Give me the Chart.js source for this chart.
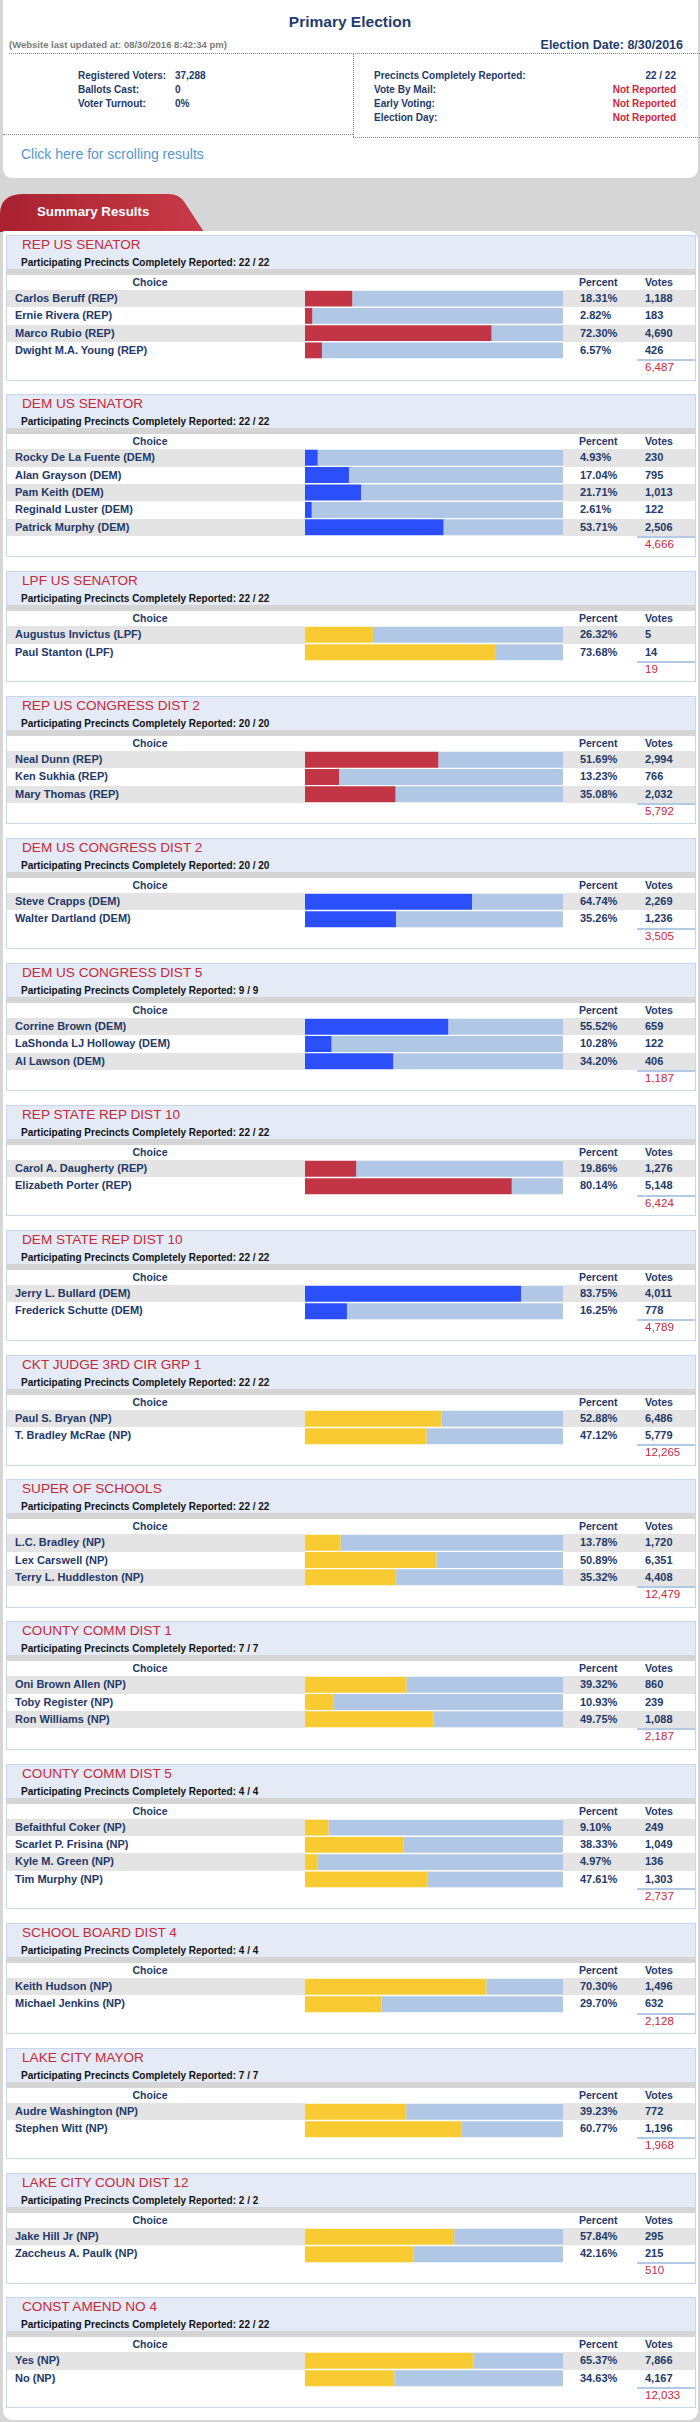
<!DOCTYPE html>
<html>
<head>
<meta charset="utf-8">
<title>Primary Election</title>
<script src="https://cdn.jsdelivr.net/npm/chart.js@4/dist/chart.umd.min.js"></script>
<style>
  html, body { margin: 0; padding: 0; }
  body {
    width: 700px; height: 2422px; overflow: hidden; position: relative;
    background: #d6d6d6; font-family: Arial, "Liberation Sans", sans-serif; color: #22396a;
  }
  .abs { position: absolute; white-space: nowrap; }
  #top { position: absolute; left: 3px; top: 0; width: 695px; height: 178px; background: #fff; border-radius: 0 0 9px 9px; }
  .dot-h { position: absolute; height: 0; border-top: 1px dotted #8a8a8a; }
  .dot-v { position: absolute; width: 0; border-left: 1px dotted #8a8a8a; }
  .stat { font-size: 10px; font-weight: bold; line-height: 12px; color: #22396a; }
  .nr { color: #c8283a; }
  #summary { position: absolute; left: 3px; top: 231px; width: 695px; height: 2189px; background: #fff; border-radius: 0 9px 9px 9px; }
  #panels { position: absolute; left: 3px; top: 4px; width: 690px; }
  .panel { box-sizing: border-box; width: 690px; border: 1px solid #c6d6ec; margin-bottom: 13.8px; background: #fff; }
  .ptitle { height: 33px; background: #e4ebf6; }
  .ptitle .t { font-size: 13.6px; line-height: 16px; color: #c8283a; padding: 1px 0 0 15px; }
  .ptitle .s { font-size: 10px; line-height: 12px; font-weight: bold; color: #111; padding: 4px 0 0 14px; }
  .stripe { height: 6px; background: #d5d5d5; }
  .hdr { height: 15px; position: relative; font-size: 10.5px; font-weight: bold; line-height: 15px; color: #22396a; }
  .rows { position: relative; }
  .row { display: flex; height: 17.33px; font-size: 11px; font-weight: bold; line-height: 17.33px; color: #22396a; }
  .row div { white-space: nowrap; }
  .row .nm { width: 290px; padding-left: 8px; }
  .row .br { width: 258px; background: #fff; }
  .row .pc { width: 57px; padding-left: 17px; }
  .row .vt { flex: 1; padding-left: 8px; }
  .row.alt .nm, .row.alt .pc, .row.alt .vt { background: #e4e4e4; }
  .rows canvas { position: absolute; left: 298px; top: 0; }
  .foot { height: 20.33px; position: relative; }
  .foot .ln { position: absolute; left: 630px; right: 0; top: 0; height: 2px; background: #b3cae6; }
  .foot .tot { position: absolute; left: 638px; top: 1px; font-size: 11.5px; line-height: 14px; color: #c8283a; }
</style>
</head>
<body>

<div id="top"></div>
<div class="abs" style="left:0;top:12px;width:700px;text-align:center;font-size:15.5px;font-weight:bold;line-height:20px;color:#1f3c6e;">Primary Election</div>
<div class="abs" style="left:9px;top:39px;font-size:9.5px;font-weight:bold;line-height:12px;color:#7a7a7a;">(Website last updated at: 08/30/2016 8:42:34 pm)</div>
<div class="abs" style="right:17px;top:37px;font-size:12.5px;font-weight:bold;line-height:16px;color:#1f3c6e;">Election Date: 8/30/2016</div>
<div class="dot-h" style="left:9px;width:691px;top:53px;"></div>
<div class="dot-h" style="left:3px;width:350px;top:134px;"></div>
<div class="dot-v" style="left:353px;top:53px;height:84px;"></div>
<div class="dot-h" style="left:353px;width:347px;top:137px;"></div>

<div class="abs stat" style="left:78px;top:70px;">Registered Voters:</div>
<div class="abs stat" style="left:175px;top:70px;">37,288</div>
<div class="abs stat" style="left:78px;top:84px;">Ballots Cast:</div>
<div class="abs stat" style="left:175px;top:84px;">0</div>
<div class="abs stat" style="left:78px;top:98px;">Voter Turnout:</div>
<div class="abs stat" style="left:175px;top:98px;">0%</div>

<div class="abs stat" style="left:374px;top:70px;">Precincts Completely Reported:</div>
<div class="abs stat" style="right:24px;top:70px;">22 / 22</div>
<div class="abs stat" style="left:374px;top:84px;">Vote By Mail:</div>
<div class="abs stat nr" style="right:24px;top:84px;">Not Reported</div>
<div class="abs stat" style="left:374px;top:98px;">Early Voting:</div>
<div class="abs stat nr" style="right:24px;top:98px;">Not Reported</div>
<div class="abs stat" style="left:374px;top:112px;">Election Day:</div>
<div class="abs stat nr" style="right:24px;top:112px;">Not Reported</div>

<div class="abs" style="left:21px;top:146px;font-size:14px;line-height:16px;color:#5596d6;">Click here for scrolling results</div>

<svg class="abs" style="left:0;top:194px;" width="206" height="38">
  <defs>
    <linearGradient id="tabg" x1="0" y1="0" x2="1" y2="0">
      <stop offset="0" stop-color="#a9222f"/>
      <stop offset="1" stop-color="#c93a48"/>
    </linearGradient>
  </defs>
  <path d="M0,38 L0,20 Q0,0 24,0 L168,0 Q180,0 185,9 L204,38 Z" fill="url(#tabg)"/>
</svg>
<div class="abs" style="left:37px;top:204px;font-size:13.3px;font-weight:bold;line-height:16px;color:#fff;">Summary Results</div>

<div id="summary"><div id="panels"></div></div>

<script>
const raceTitles = [
  'REP US SENATOR', 'DEM US SENATOR', 'LPF US SENATOR', 'REP US CONGRESS DIST 2',
  'DEM US CONGRESS DIST 2', 'DEM US CONGRESS DIST 5', 'REP STATE REP DIST 10', 'DEM STATE REP DIST 10',
  'CKT JUDGE 3RD CIR GRP 1', 'SUPER OF SCHOOLS', 'COUNTY COMM DIST 1', 'COUNTY COMM DIST 5',
  'SCHOOL BOARD DIST 4', 'LAKE CITY MAYOR', 'LAKE CITY COUN DIST 12', 'CONST AMEND NO 4'
];
const racePrecincts = [
  '22 / 22', '22 / 22', '22 / 22', '20 / 20', '20 / 20', '9 / 9', '22 / 22', '22 / 22',
  '22 / 22', '22 / 22', '7 / 7', '4 / 4', '4 / 4', '7 / 7', '2 / 2', '22 / 22'
];
const raceParties = ['REP', 'DEM', 'LPF', 'REP', 'DEM', 'DEM', 'REP', 'DEM', 'NP', 'NP', 'NP', 'NP', 'NP', 'NP', 'NP', 'NP'];

const candidateNames = [
  ['Carlos Beruff (REP)', 'Ernie Rivera (REP)', 'Marco Rubio (REP)', 'Dwight M.A. Young (REP)'],
  ['Rocky De La Fuente (DEM)', 'Alan Grayson (DEM)', 'Pam Keith (DEM)', 'Reginald Luster (DEM)', 'Patrick Murphy (DEM)'],
  ['Augustus Invictus (LPF)', 'Paul Stanton (LPF)'],
  ['Neal Dunn (REP)', 'Ken Sukhia (REP)', 'Mary Thomas (REP)'],
  ['Steve Crapps (DEM)', 'Walter Dartland (DEM)'],
  ['Corrine Brown (DEM)', 'LaShonda LJ Holloway (DEM)', 'Al Lawson (DEM)'],
  ['Carol A. Daugherty (REP)', 'Elizabeth Porter (REP)'],
  ['Jerry L. Bullard (DEM)', 'Frederick Schutte (DEM)'],
  ['Paul S. Bryan (NP)', 'T. Bradley McRae (NP)'],
  ['L.C. Bradley (NP)', 'Lex Carswell (NP)', 'Terry L. Huddleston (NP)'],
  ['Oni Brown Allen (NP)', 'Toby Register (NP)', 'Ron Williams (NP)'],
  ['Befaithful Coker (NP)', 'Scarlet P. Frisina (NP)', 'Kyle M. Green (NP)', 'Tim Murphy (NP)'],
  ['Keith Hudson (NP)', 'Michael Jenkins (NP)'],
  ['Audre Washington (NP)', 'Stephen Witt (NP)'],
  ['Jake Hill Jr (NP)', 'Zaccheus A. Paulk (NP)'],
  ['Yes (NP)', 'No (NP)']
];
const candidatePercents = [
  [18.31, 2.82, 72.30, 6.57],
  [4.93, 17.04, 21.71, 2.61, 53.71],
  [26.32, 73.68],
  [51.69, 13.23, 35.08],
  [64.74, 35.26],
  [55.52, 10.28, 34.20],
  [19.86, 80.14],
  [83.75, 16.25],
  [52.88, 47.12],
  [13.78, 50.89, 35.32],
  [39.32, 10.93, 49.75],
  [9.10, 38.33, 4.97, 47.61],
  [70.30, 29.70],
  [39.23, 60.77],
  [57.84, 42.16],
  [65.37, 34.63]
];
const candidateVotes = [
  [1188, 183, 4690, 426],
  [230, 795, 1013, 122, 2506],
  [5, 14],
  [2994, 766, 2032],
  [2269, 1236],
  [659, 122, 406],
  [1276, 5148],
  [4011, 778],
  [6486, 5779],
  [1720, 6351, 4408],
  [860, 239, 1088],
  [249, 1049, 136, 1303],
  [1496, 632],
  [772, 1196],
  [295, 215],
  [7866, 4167]
];
const raceTotals = [6487, 4666, 19, 5792, 3505, 1187, 6424, 4789, 12265, 12479, 2187, 2737, 2128, 1968, 510, 12033];

const partyColors = { REP: '#c13545', DEM: '#2b50fb', LPF: '#f9cb33', NP: '#f9cb33' };
const remainderColor = '#b0c8e5';
const ROW_H = 17.33;

const ElectionPage = {
  host: null,

  init() {
    this.host = document.getElementById('panels');
    raceTitles.forEach((title, i) => this.buildPanel(i));
  },

  fmt(n) {
    return n.toLocaleString('en-US');
  },

  // Monta o painel de uma disputa
  buildPanel(i) {
    const names = candidateNames[i];
    const panel = document.createElement('div');
    panel.className = 'panel';
    panel.innerHTML =
      `<div class="ptitle"><div class="t">${raceTitles[i]}</div>` +
      `<div class="s">Participating Precincts Completely Reported: ${racePrecincts[i]}</div></div>` +
      `<div class="stripe"></div>` +
      `<div class="hdr">` +
        `<div class="abs" style="left:0;width:286px;text-align:center;">Choice</div>` +
        `<div class="abs" style="left:572px;">Percent</div>` +
        `<div class="abs" style="left:638px;">Votes</div>` +
      `</div>`;

    const rows = document.createElement('div');
    rows.className = 'rows';
    names.forEach((name, r) => {
      const row = document.createElement('div');
      row.className = 'row' + (r % 2 === 0 ? ' alt' : '');
      row.innerHTML =
        `<div class="nm">${name}</div><div class="br"></div>` +
        `<div class="pc">${candidatePercents[i][r].toFixed(2)}%</div>` +
        `<div class="vt">${this.fmt(candidateVotes[i][r])}</div>`;
      rows.appendChild(row);
    });
    const canvas = document.createElement('canvas');
    canvas.width = 258;
    canvas.height = Math.round(names.length * ROW_H);
    canvas.style.width = '258px';
    canvas.style.height = canvas.height + 'px';
    rows.appendChild(canvas);
    panel.appendChild(rows);

    const foot = document.createElement('div');
    foot.className = 'foot';
    foot.innerHTML = `<div class="ln"></div><div class="tot">${this.fmt(raceTotals[i])}</div>`;
    panel.appendChild(foot);

    this.host.appendChild(panel);
    this.drawBars(canvas, i);
  },

  // Barras horizontais empilhadas: percentual + restante até 100
  drawBars(canvas, i) {
    const pct = candidatePercents[i];
    new Chart(canvas, {
      type: 'bar',
      data: {
        labels: candidateNames[i],
        datasets: [{
          data: pct,
          backgroundColor: partyColors[raceParties[i]],
          barPercentage: 0.92,
          categoryPercentage: 1,
          borderWidth: 0
        }, {
          data: pct.map(p => +(100 - p).toFixed(2)),
          backgroundColor: remainderColor,
          barPercentage: 0.92,
          categoryPercentage: 1,
          borderWidth: 0
        }]
      },
      options: {
        indexAxis: 'y',
        responsive: false,
        animation: false,
        devicePixelRatio: 1,
        layout: { padding: 0 },
        scales: {
          x: { stacked: true, min: 0, max: 100, display: false },
          y: { stacked: true, display: false }
        },
        plugins: { legend: { display: false }, tooltip: { enabled: false } }
      }
    });
  }
};

ElectionPage.init();
</script>
</body>
</html>
